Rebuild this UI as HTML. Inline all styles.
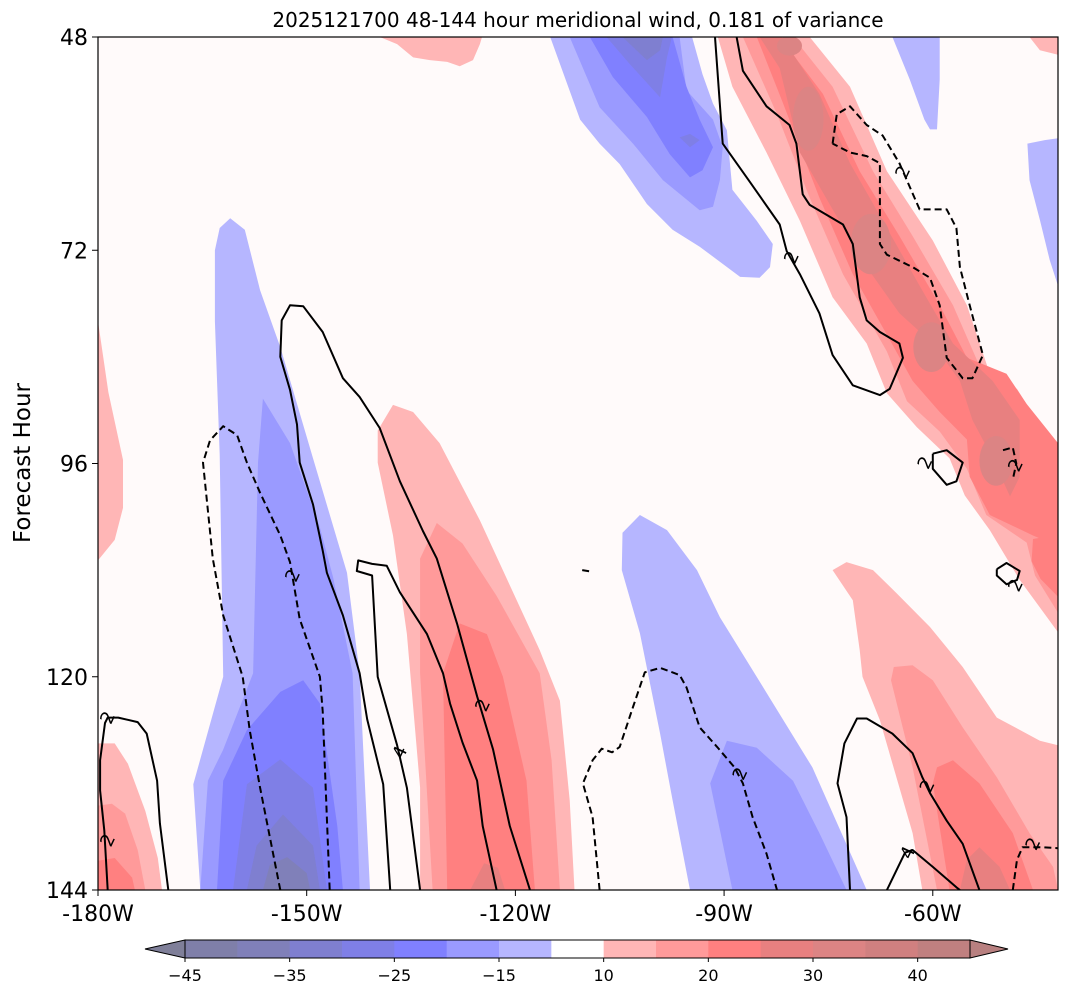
<!DOCTYPE html>
<html><head><meta charset="utf-8"><style>
body{margin:0;background:#fff;}
svg{display:block;font-family:"DejaVu Sans","Liberation Sans",sans-serif;}
</style></head><body>
<svg id="chart" width="1069" height="997" viewBox="0 0 1069 997" xmlns="http://www.w3.org/2000/svg">
<text x="578" y="27" font-size="20" text-anchor="middle">2025121700 48-144 hour meridional wind, 0.181 of variance</text>
<text transform="translate(30,463) rotate(-90)" font-size="23" text-anchor="middle">Forecast Hour</text>
<g id="plot"></g>
<g id="axes"></g>
<g id="cbar"></g>
</svg>
<script>
// ---- data ----
const xTicks = [-180, -150, -120, -90, -60];
const xTickLabels = ["-180W", "-150W", "-120W", "-90W", "-60W"];
const yTicks = [48, 72, 96, 120, 144];
const yTickLabels = ["48", "72", "96", "120", "144"];
const cbarBins = ["#7f7fa9","#8080b9","#7f7fd0","#7f7fe6","#8080ff","#9a9aff","#b6b6ff","#ffffff","#ffb6b6","#ff9a9a","#ff8080","#e88080","#dc8484","#d08080","#c08080"];
const cbarTickIdx = [0, 2, 4, 6, 8, 10, 12, 14];
const cbarTickLabels = ["\u221245", "\u221235", "\u221225", "\u221215", "10", "20", "30", "40"];
const levelColors = {"-10":"#b6b6ff","-15":"#9a9aff","-20":"#8080ff","-25":"#7f7fe6","-30":"#7f7fd0","-35":"#8080b9","10":"#ffb6b6","15":"#ff9a9a","20":"#ff8080","25":"#e88080","30":"#dc8484"};
const fills = [
 [-10, [[-115,48],[-110.7,57.3],[-107.9,60],[-105,62.3],[-101.1,66.8],[-97.4,69.7],[-93.5,71.6],[-87.7,75],[-84.9,75.1],[-83.4,73.9],[-83,71.3],[-85.3,68.7],[-88.8,65.2],[-89.6,58.5],[-91.6,55.5],[-93.1,52.2],[-94.6,48]]],
 [-15, [[-112.2,48],[-107.9,55.9],[-103.1,60],[-98.8,64.1],[-93.5,67.5],[-91.6,67.1],[-90.6,64.1],[-90.2,60.4],[-91.6,57.3],[-95.4,54],[-96.4,48]]],
 [-20, [[-109.3,48],[-106,52.5],[-101.1,57],[-97.8,61.2],[-94.9,63.8],[-93.1,63],[-91.6,60.4],[-93.5,57.3],[-95.4,53.6],[-97.4,48]]],
 [-25, [[-106.9,48],[-103.6,51],[-99.2,54.8],[-98.2,50.3],[-97.5,48]]],
 [-30, [[-104.6,48],[-101.1,50.6],[-99.2,49.5],[-98.8,48]]],
 [-25, [[-96.4,59.3],[-94.9,58.9],[-93.5,59.6],[-94.9,60.4]]],
 [-10, [[-65.8,48],[-63.3,52.8],[-61.2,57.3],[-60.4,58.4],[-59.4,58.4],[-59,52.8],[-59,48]]],
 [-10, [[-46.4,60],[-43.9,59.6],[-42,59.4],[-42,76],[-43.2,73.1],[-44.6,68.6],[-46.1,64.1]]],
 [10, [[-90.9,48],[-88.8,53.6],[-83.9,61],[-79.1,68.7],[-74.4,77.3],[-69.5,82.5],[-66.6,88.1],[-62.3,91.9],[-57.6,95.4],[-55.4,99.6],[-51.8,103.5],[-47.5,109.1],[-42,115],[-42,95],[-45.1,91.1],[-47.9,87.6],[-51.8,85.9],[-55.1,78.2],[-60,70.9],[-66.6,63.1],[-71.9,53.6],[-77.7,48]]],
 [15, [[-87.3,48],[-82.4,56.7],[-77.7,66.1],[-72.9,74.7],[-66.6,83.4],[-63.7,89],[-59,92.4],[-55.1,96.6],[-52.3,101.8],[-46.5,104.9],[-45.3,108.6],[-42,112.8],[-42,96.3],[-45.6,91.1],[-48.9,87.6],[-53.3,85],[-57.1,78.2],[-62.9,70.4],[-68.6,63.1],[-74.4,53.6],[-80.1,48]]],
 [20, [[-85.3,48],[-81.6,55.3],[-76.3,66.1],[-71.5,74.7],[-66.6,81.5],[-62.9,86.7],[-59,90.2],[-55.1,93.3],[-54.7,97.5],[-51.8,101.8],[-45.6,104.1],[-42,105.3],[-42,93.7],[-46.5,89.3],[-49.4,85.9],[-55.1,84.1],[-59,78.2],[-64.8,70.4],[-70.5,63.1],[-75.8,54.4],[-82,48]]],
 [20, [[-45.6,104.5],[-42,104],[-42,111],[-44.5,109],[-45.8,107]]],
 [25, [[-84.9,48],[-82,51.5],[-79.1,61],[-74.4,67.4],[-69.5,73.9],[-64.8,79.1],[-60,82.5],[-56.1,86.7],[-54.3,91.1],[-51.4,95.4],[-48.9,99.7],[-47.5,97.5],[-47.5,91.1],[-51.4,86.7],[-57.1,82.5],[-61.9,76],[-66.6,69.5],[-71.9,62.2],[-76.3,54.4],[-81.7,48]]],
 [10, [[-139.5,48],[-137,48.8],[-134.7,50.3],[-132.3,50.6],[-129.8,50.8],[-128,51.3],[-126.1,50.6],[-125.1,48.8],[-124.8,48]]],
 [10, [[-46.1,48],[-44.6,49.5],[-42,50],[-42,48]]],
 [10, [[-180,80],[-178.5,88],[-176.4,95.6],[-176.4,101],[-177.6,104.6],[-180,106.9]]],
 [-10, [[-163.2,72],[-162.5,69.5],[-161,68.4],[-158.9,69.7],[-156.7,76.5],[-153.8,82.9],[-149.1,95.4],[-144.2,108.3],[-142.4,119.6],[-140.9,144],[-165.3,144],[-166.3,132.1],[-162,120],[-162.5,95],[-163.2,80]]],
 [-15, [[-156.3,88.7],[-152.4,93.7],[-148.1,103.2],[-146.2,108.8],[-143.4,119.6],[-142.4,144],[-165.3,144],[-164.2,131.7],[-162,128.2],[-157.7,119.6],[-157,95.9]]],
 [-20, [[-153.8,121.7],[-150.5,120.4],[-148.1,123],[-145.6,136.8],[-144.8,144],[-162.9,144],[-162,131.7],[-158.6,126]]],
 [-25, [[-158.6,132.1],[-153.8,129.3],[-149.1,132.5],[-147.1,144],[-160.6,144]]],
 [-30, [[-157.2,139],[-153.4,135.5],[-149.1,139],[-148.1,144],[-158.6,144]]],
 [-35, [[-155.3,141.2],[-152.8,140.3],[-150,142.1],[-149.5,144],[-156.3,144]]],
 [10, [[-139.8,95.9],[-139.8,92.3],[-137.6,89.4],[-134.7,90.2],[-130.9,93.7],[-125.1,102.4],[-116.5,117],[-113.6,122.7],[-112.2,133.9],[-111.5,144],[-133.7,144],[-133.7,132.5],[-135.6,115.2],[-137.6,104.1]]],
 [15, [[-133.7,106.7],[-131.3,102.7],[-127.6,105],[-122.7,110.9],[-116.5,119.6],[-114.8,129.4],[-113.6,144],[-131.9,144],[-133.7,119.6]]],
 [20, [[-130.4,119.6],[-128,114],[-124.1,115.2],[-121.8,120],[-118.4,131.7],[-117.2,144],[-129.8,144]]],
 [25, [[-126.5,144],[-124.5,141],[-122.5,141.5],[-121.5,144]]],
 [-10, [[-102.1,101.8],[-104.6,103.8],[-104.7,108],[-102.1,115.1],[-99.2,126.4],[-97.4,133.9],[-94.9,144],[-69.5,144],[-77.3,130.2],[-83.9,121.8],[-90.6,113.3],[-93.9,108],[-98.2,103.5]]],
 [-15, [[-89.6,127.2],[-85.3,128],[-80.1,131.7],[-76.3,137.6],[-72.4,144],[-88.8,144],[-92,132]]],
 [10, [[-74.4,108],[-72.4,107.1],[-68.6,108],[-65.2,110.6],[-60.4,114.4],[-55.7,118.9],[-50.8,124.6],[-44.6,127.2],[-42,127.7],[-42,144],[-61.5,144],[-62.9,137.6],[-67.6,124.9],[-70.1,120],[-70.5,117],[-71.5,111.4]]],
 [15, [[-65.6,118.9],[-62.9,118.7],[-60,120.4],[-55.7,125.7],[-50.8,131.3],[-46.1,137.6],[-42.7,141.4],[-42,144],[-59.4,144],[-62.9,130.2],[-66,120.4]]],
 [20, [[-59.4,130.2],[-57.1,129.4],[-53.3,132],[-48.5,137.6],[-45.6,144],[-57.6,144],[-60,132]]],
 [25, [[-56.1,144],[-55.1,140.6],[-53.3,139.2],[-50.4,141.4],[-48.9,144]]],
 [10, [[-180,127.5],[-177.6,127.5],[-175.7,129.8],[-173.2,135.1],[-171.4,140.4],[-170.8,144],[-180,144]]],
 [15, [[-180,134.5],[-178,134.3],[-176.1,135.4],[-174.3,139.5],[-173.2,144],[-180,144]]],
 [20, [[-180,140.7],[-177.6,140.4],[-175.1,142.6],[-174.7,144],[-180,144]]]
];
const cores = [[-77.9,57.2,2.2,3.6],[-68.9,71.3,2.9,3.4],[-60.2,82.9,2.6,2.8],[-50.9,95.7,2.4,2.8],[-80.6,49,1.8,1.1]];
const lines = [
 [false, [[-91.3,48],[-90.2,60],[-86.3,64.3],[-82,69.1],[-81,72.1],[-79.1,74.7],[-76.3,79.1],[-74.4,83.8],[-71.5,87.2],[-67.6,88.3],[-66.2,87.6],[-64.3,84.1],[-64.8,82.5],[-67.6,81.2],[-69.5,79.9],[-70.5,77.3],[-71.5,71.3],[-72.9,69.1],[-77.7,66.9],[-78.7,65.7],[-79.6,60],[-80.6,57.9],[-83.9,55.8],[-87.3,51.8],[-88.2,48]]],
 [false, [[-138,144],[-139,132.1],[-141.3,124.8],[-142.4,119.6],[-144.8,113.1],[-147.1,108.3],[-147.7,105.8],[-149.1,100.6],[-151,95.9],[-151.4,91.6],[-152.4,87.7],[-153.8,84],[-153.6,79.9],[-152.4,78.2],[-150.5,78.3],[-147.7,81.2],[-144.8,86.4],[-142.4,88.5],[-139.5,92],[-136.6,98],[-133.3,103.6],[-131.3,106.7],[-128.4,114],[-125.5,122.2],[-123.2,128.2],[-120.8,136.8],[-117.9,144]]],
 [false, [[-133.7,144],[-135.6,132.5],[-137,127.7],[-139.8,120],[-140.6,108.6],[-142.8,108.1],[-142.6,106.9],[-140.6,107.3],[-138.5,107.5],[-136.6,110.5],[-132.7,115.2],[-130.4,119.6],[-129.4,123],[-127.6,127.4],[-125.5,131.7],[-124.7,136.8],[-122.7,144]]],
 [false, [[-71.9,144],[-72.4,135.8],[-73.7,132],[-72.7,127.5],[-70.9,124.7],[-69.5,124.7],[-65.8,126.4],[-62.9,128.6],[-61.5,131.3],[-60.4,133.1],[-58,136.2],[-55.7,138.8],[-53.3,144]]],
 [false, [[-66.6,144],[-64,139.8],[-62.9,139.5],[-60,141.4],[-56.6,143.7],[-56.1,144]]],
 [false, [[-60,94.9],[-58,94.5],[-55.7,95.9],[-56.6,98],[-58,98.4],[-60,96.6],[-60,94.9]]],
 [false, [[-50.8,107.9],[-49.4,107.2],[-47.5,108.1],[-47.9,109.1],[-49.4,109.6],[-50.8,108.6],[-50.8,107.9]]],
 [false, [[-178.6,144],[-179.1,137.3],[-179.7,132.8],[-179.7,129.4],[-179,125.2],[-178.6,124.6],[-177.1,124.6],[-174.3,125.1],[-173,126.4],[-171.5,131.7],[-171.1,136.5],[-169.9,144]]],
 [true, [[-74.4,60],[-73.8,56.7],[-71.9,55.8],[-69.5,57.9],[-67.2,59.1],[-64.8,62.2],[-61.9,67.4],[-60,67.4],[-58,67.4],[-56.6,69.5],[-56.1,73.9],[-54.7,78.2],[-52.8,83.8],[-54.3,86.4],[-55.7,86.4],[-58,84.1],[-59,78.2],[-60.4,75.1],[-62.9,73.9],[-66.6,72.5],[-67.6,71.3],[-67.6,62.2],[-69.5,61.4],[-71.9,61],[-74.4,60]]],
 [true, [[-153.8,144],[-156.7,132.5],[-158.2,126],[-159.2,120],[-162,113.1],[-163.5,106.7],[-164.9,95.9],[-163.9,93.4],[-162,91.8],[-160,92.8],[-158.6,95.9],[-156.7,99.3],[-153.8,104.1],[-152.4,107.1],[-151,113.5],[-148.1,120],[-147.7,123.9],[-146.7,144]]],
 [true, [[-107.9,144],[-108.9,135.8],[-110.3,132],[-108.9,129.4],[-107.6,128.1],[-106.1,128.5],[-105,127.9],[-103.1,123.4],[-101.4,119.5],[-99.2,119],[-96.4,119.8],[-95.4,121.2],[-93.5,125.7],[-91,127.9],[-88.5,130.2],[-87.3,132],[-85.9,135.8],[-83.9,139.9],[-82.4,144]]],
 [true, [[-48.5,144],[-47.9,140.6],[-47.1,139.2],[-44.2,139.2],[-42,139.3]]],
 [true, [[-49.9,94.5],[-48.5,94.2],[-48,96],[-48.5,97.8]]],
 [true, [[-110.4,108],[-108.9,108.2]]]
];
const labels = [[-124.7,123.2,"2"],[-136.6,128.5,"4"],[-152,108.6,"2"],[-80.3,72.8,"2"],[-64.3,63.2,"2"],[-61.1,95.9,"2"],[-48.1,96.2,"2"],[-48.1,109.7,"2"],[-87.7,130.9,"2"],[-60.8,132.3,"2"],[-63.6,139.8,"4"],[-45.6,138.8,"2"],[-178.6,124.6,"2"],[-178.6,138.4,"2"]];

const X0=98, X1=1058, Y0=37, Y1=890;
const LON0=-180, LON1=-42, H0=48, H1=144;
function xs(lon){ return X0 + (lon-LON0)/(LON1-LON0)*(X1-X0); }
function ys(h){ return Y0 + (h-H0)/(H1-H0)*(Y1-Y0); }
const NS="http://www.w3.org/2000/svg";
function mk(tag, attrs, parent){ const e=document.createElementNS(NS,tag); for(const k in attrs) e.setAttribute(k,attrs[k]); parent.appendChild(e); return e; }

const plot=document.getElementById('plot');
const clip=mk('clipPath',{id:'pc'},plot);
mk('rect',{x:X0,y:Y0,width:X1-X0,height:Y1-Y0},clip);
const bg=mk('rect',{x:X0,y:Y0,width:X1-X0,height:Y1-Y0,fill:'#fffafa'},plot);


const g=mk('g',{'clip-path':'url(#pc)'},plot);
fills.forEach(function(f){
  const pts=f[1].map(p=>xs(p[0]).toFixed(1)+','+ys(p[1]).toFixed(1)).join(' ');
  const el=mk('polygon',{points:pts,fill:levelColors[String(f[0])],stroke:'none'},g);
  
  
});
cores.forEach(function(c){
  const el=mk('ellipse',{cx:xs(c[0]),cy:ys(c[1]),rx:xs(c[0]+c[2])-xs(c[0]),ry:ys(c[1]+c[3])-ys(c[1]),fill:levelColors["30"]},g);
  
  
});
lines.forEach(function(l){
  const pts=l[1].map(p=>xs(p[0]).toFixed(1)+','+ys(p[1]).toFixed(1)).join(' ');
  const a={points:pts,fill:'none',stroke:'#000','stroke-width':2,'stroke-linejoin':'round'};
  if(l[0]) a['stroke-dasharray']='7,4';
  const el=mk('polyline',a,g);
  
  
});
labels.forEach(function(lb){
  const x=xs(lb[0]), y=ys(lb[1]);
  const el=mk('text',{x:x,y:y+6,'font-size':18,'text-anchor':'middle',transform:'rotate(-65 '+x+' '+y+')'},g);
  el.textContent=lb[2];
  
  
});
const frame=mk('rect',{x:X0,y:Y0,width:X1-X0,height:Y1-Y0,fill:'none',stroke:'#000','stroke-width':1.2},plot);



const axes=document.getElementById('axes');
xTicks.forEach(function(v,i){
  const x=xs(v);
  const t=mk('line',{x1:x,x2:x,y1:Y1,y2:Y1+6,stroke:'#000','stroke-width':1},axes);
  
  
  const tx=mk('text',{x:x,y:Y1+31,'font-size':22,'text-anchor':'middle'},axes);
  tx.textContent=xTickLabels[i];
  
  
});
yTicks.forEach(function(v,i){
  const y=ys(v);
  const t=mk('line',{x1:X0-6,x2:X0,y1:y,y2:y,stroke:'#000','stroke-width':1},axes);
  
  
  const tx=mk('text',{x:X0-10,y:y+8,'font-size':22,'text-anchor':'end'},axes);
  tx.textContent=yTickLabels[i];
  
  
});

const cb=document.getElementById('cbar');
const CX0=185, CX1=970, CY0=940, CY1=958;
const bw=(CX1-CX0)/cbarBins.length;
cbarBins.forEach(function(c,i){
  const r=mk('rect',{x:CX0+i*bw,y:CY0,width:bw+0.5,height:CY1-CY0,fill:c},cb);
  
  
});
const lt=mk('polygon',{points:CX0+','+CY0+' '+(CX0-40)+','+((CY0+CY1)/2)+' '+CX0+','+CY1,fill:'#7f7f99',stroke:'#000','stroke-width':1},cb);


const rt=mk('polygon',{points:CX1+','+CY0+' '+(CX1+38)+','+((CY0+CY1)/2)+' '+CX1+','+CY1,fill:'#b88080',stroke:'#000','stroke-width':1},cb);


const cf=mk('rect',{x:CX0,y:CY0,width:CX1-CX0,height:CY1-CY0,fill:'none',stroke:'#000','stroke-width':1},cb);


cbarTickIdx.forEach(function(k,i){
  const x=CX0+k*bw;
  const t=mk('line',{x1:x,x2:x,y1:CY1,y2:CY1+4,stroke:'#000','stroke-width':1},cb);
  
  
  const tx=mk('text',{x:x,y:CY1+23,'font-size':16,'text-anchor':'middle'},cb);
  tx.textContent=cbarTickLabels[i];
  
  
});
</script>
</body></html>
